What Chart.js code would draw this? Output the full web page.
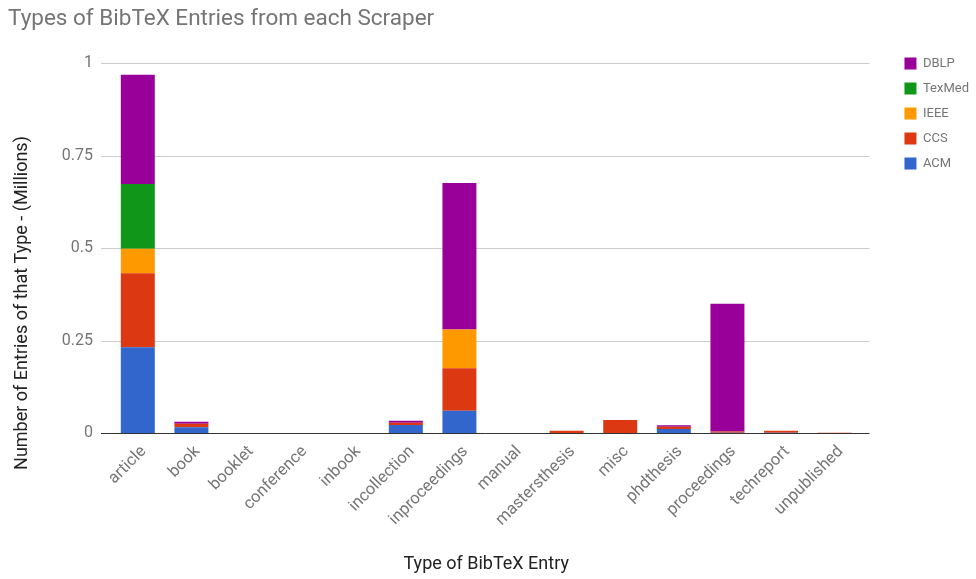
<!DOCTYPE html>
<html>
<head>
<meta charset="utf-8">
<script src="https://cdn.jsdelivr.net/npm/chart.js@4.4.1/dist/chart.umd.min.js"></script>
<style>
html,body{margin:0;padding:0;background:#fff;}
#wrap{width:976px;height:579px;position:relative;}
</style>
</head>
<body>
<div id="wrap"><canvas id="c" width="976" height="579"></canvas></div>
<script>
const categories = ["article","book","booklet","conference","inbook","incollection","inproceedings","manual","mastersthesis","misc","phdthesis","proceedings","techreport","unpublished"];
const acm    = [0.232, 0.0155, 0, 0, 0, 0.0215, 0.060, 0, 0,     0,     0.011, 0.001, 0.001, 0];
const ccs    = [0.200, 0.0095, 0, 0, 0, 0.006,  0.115, 0, 0.006, 0.035, 0.006, 0.003, 0.005, 0.001];
const ieee   = [0.066, 0,      0, 0, 0, 0,      0.105, 0, 0,     0,     0,     0,     0,     0];
const texmed = [0.175, 0,      0, 0, 0, 0,      0,     0, 0,     0,     0,     0,     0,     0];
const dblp   = [0.295, 0.0055, 0, 0, 0, 0.0055, 0.396, 0, 0,     0,     0.004, 0.345, 0,     0];
const yTicks = [0, 0.25, 0.5, 0.75, 1];

const FONT = "Roboto, 'Liberation Sans', Arial, sans-serif";

const gridPlugin = {
  id: 'gridExt',
  beforeDatasetsDraw(chart) {
    const ctx = chart.ctx, y = chart.scales.y, a = chart.chartArea;
    ctx.save();
    yTicks.forEach(v => {
      const py = Math.round(y.getPixelForValue(v)) + 0.5;
      ctx.strokeStyle = v === 0 ? '#333333' : '#cccccc';
      ctx.lineWidth = 1;
      ctx.beginPath();
      ctx.moveTo(a.left - 10, py);
      ctx.lineTo(a.right + 8, py);
      ctx.stroke();
    });
    ctx.restore();
  },
  afterDraw(chart) {
    const ctx = chart.ctx;
    ctx.save();
    ctx.translate(22, 303);
    ctx.rotate(-Math.PI / 2);
    ctx.font = "18px " + FONT;
    ctx.fillStyle = '#222222';
    ctx.textAlign = 'center';
    ctx.textBaseline = 'middle';
    ctx.fillText('Number of Entries of that Type - (Millions)', 0, 0);
    ctx.restore();
  }
};

const mk = (label, data, color) => ({label, data, backgroundColor: color, borderWidth: 0});

new Chart(document.getElementById('c'), {
  type: 'bar',
  data: {
    labels: categories,
    datasets: [
      mk('ACM', acm, '#3366cc'),
      mk('CCS', ccs, '#dc3912'),
      mk('IEEE', ieee, '#ff9900'),
      mk('TexMed', texmed, '#109618'),
      mk('DBLP', dblp, '#990099')
    ]
  },
  options: {
    responsive: false,
    animation: false,
    devicePixelRatio: 1,
    layout: {padding: {left: 8, right: -3, top: 0, bottom: 0}},
    datasets: {bar: {categoryPercentage: 1, barPercentage: 0.634}},
    plugins: {
      title: {
        display: true,
        text: 'Types of BibTeX Entries from each Scraper',
        align: 'start',
        color: '#757575',
        font: {family: FONT, size: 22.5, weight: 'normal'},
        padding: {top: 6, bottom: 30}
      },
      legend: {
        position: 'right',
        align: 'start',
        reverse: true,
        title: {display: true, text: '', font: {size: 10}, padding: {top: 33, bottom: 0}},
        labels: {
          boxWidth: 12, boxHeight: 12,
          padding: 12,
          color: '#757575',
          font: {family: FONT, size: 13}
        }
      },
      tooltip: {enabled: false}
    },
    scales: {
      x: {
        stacked: true,
        grid: {display: false},
        border: {display: false},
        ticks: {
          color: '#757575',
          font: {family: FONT, size: 16.5},
          maxRotation: 45, minRotation: 45,
          padding: 1,
          labelOffset: 6,
          autoSkip: false
        },
        title: {
          display: true,
          text: 'Type of BibTeX Entry',
          color: '#222222',
          font: {family: FONT, size: 18},
          padding: {top: 0, bottom: 4}
        },
        afterFit(s) { s.height = 146; }
      },
      y: {
        stacked: true,
        min: 0, max: 1,
        grid: {display: false, drawTicks: false},
        border: {display: false},
        ticks: {
          stepSize: 0.25,
          color: '#757575',
          font: {family: FONT, size: 16},
          padding: 18,
          callback: (v) => String(v)
        },
        afterFit(s) { s.width = 103; }
      },
      y2: {
        position: 'right',
        display: true,
        grid: {display: false, drawTicks: false},
        border: {display: false},
        ticks: {display: false},
        afterFit(s) { s.width = 31; }
      }
    }
  },
  plugins: [gridPlugin]
});
</script>
</body>
</html>
